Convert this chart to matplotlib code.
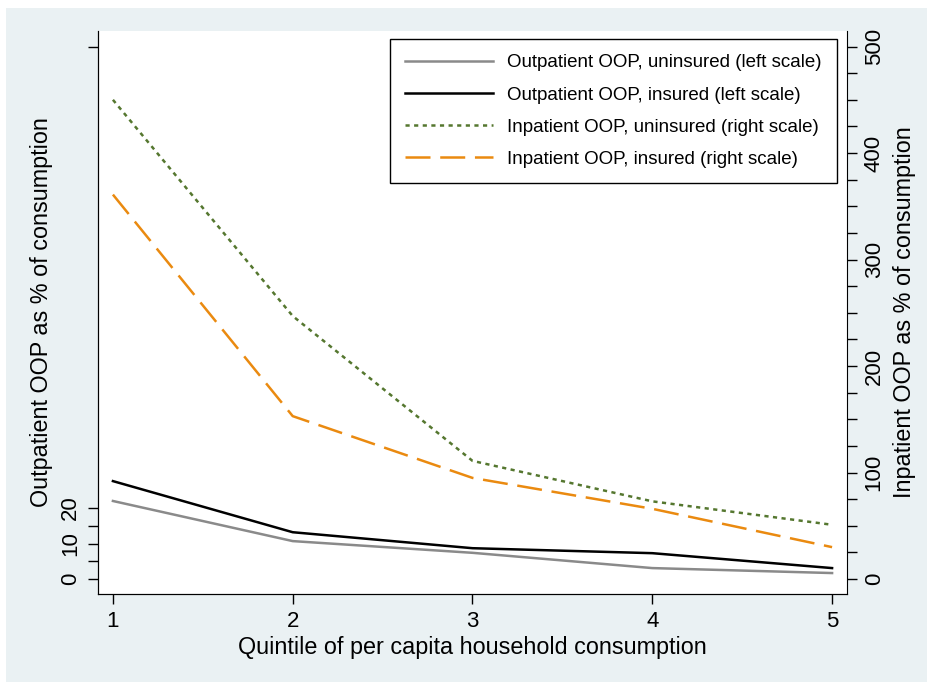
import matplotlib
matplotlib.use("Agg")
import matplotlib.pyplot as plt
from matplotlib.patches import Rectangle

plt.rcParams['font.family'] = ['Liberation Sans', 'DejaVu Sans']
plt.rcParams['lines.scale_dashes'] = False

quintile = [1, 2, 3, 4, 5]
# left scale (outpatient, % of consumption)
out_uninsured = [22.0, 10.7, 7.4, 3.1, 1.7]
out_insured = [27.6, 13.2, 8.7, 7.3, 3.1]
# right scale (inpatient, % of consumption)
in_uninsured = [450, 247, 111, 73, 51]
in_insured = [361, 153, 95, 66, 30]

left_ticks = [0, 10, 20, 150]
left_minor = [5, 15]
right_ticks = [0, 100, 200, 300, 400, 500]

bg = '#EAF1F3'
fig = plt.figure(figsize=(9.28, 6.82), dpi=100, facecolor='white')
fig.patches.append(Rectangle((6 / 928, 0), 1, 1 - 8 / 682, transform=fig.transFigure,
                             facecolor=bg, edgecolor='none', zorder=-10))

ax = fig.add_axes([98 / 928, 1 - 594 / 682, (847 - 98) / 928, (594 - 31) / 682])
ax.set_facecolor('white')
ax2 = ax.twinx()

l1, = ax.plot(quintile, out_uninsured, color='#8A8A8A', lw=1.8)
l2, = ax.plot(quintile, out_insured, color='black', lw=1.8)
l3, = ax2.plot(quintile, in_uninsured, color='#55772F', lw=1.8, dashes=(3.0, 3.2))
l4, = ax2.plot(quintile, in_insured, color='#EA8A10', lw=1.8, dashes=(18, 7))

ax.set_xlim(0.917, 5.083)
ax2.set_ylim(-14, 514.6)
ax.set_ylim(-14 * 0.3, 514.6 * 0.3)

ax.set_xticks(quintile)
ax.set_yticks(left_ticks)
ax.set_yticklabels(['0', '10', '20', ''], rotation=90, va='center')
ax.set_yticks(left_minor, minor=True)
ax2.set_yticks(right_ticks)
ax2.set_yticklabels([str(t) for t in right_ticks], rotation=90, va='center')
ax2.set_yticks([v for v in range(0, 501, 25) if v % 100], minor=True)

for a in (ax, ax2):
    a.spines['top'].set_visible(False)
    a.tick_params(which='major', length=7, width=1, labelsize=16, pad=5)
    a.tick_params(which='minor', length=7, width=1)
ax.spines['right'].set_visible(False)

ax.set_xlabel('Quintile of per capita household consumption', fontsize=16.8, labelpad=3)
ax.set_ylabel('Outpatient OOP as % of consumption', fontsize=16.8, labelpad=5)
ax2.set_ylabel('Inpatient OOP as % of consumption', fontsize=16.8, rotation=90, labelpad=6)

leg = ax2.legend([l1, l2, l3, l4],
                 ['Outpatient OOP, uninsured (left scale)',
                  'Outpatient OOP, insured (left scale)',
                  'Inpatient OOP, uninsured (right scale)',
                  'Inpatient OOP, insured (right scale)'],
                 loc='upper right', bbox_to_anchor=(0.9866, 0.9858), borderaxespad=0,
                 fontsize=13.5, fancybox=False, framealpha=1, edgecolor='black',
                 handlelength=4.7, handletextpad=0.75, labelspacing=0.8, borderpad=0.82)
leg.get_frame().set_linewidth(1.0)

fig.savefig('out.png', dpi=100, facecolor=fig.get_facecolor())
